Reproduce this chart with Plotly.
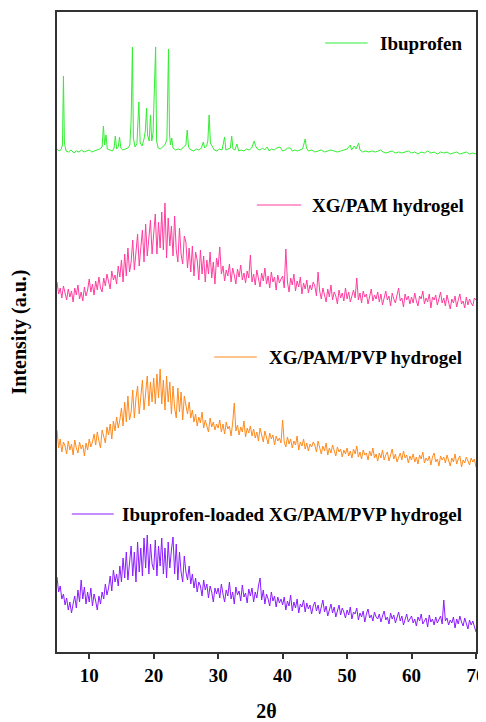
import plotly.graph_objects as go

# ---------------- data ----------------
# amorphous scans: start 5°, step 0.25°, 261 points (to 70°)
SCAN_START = 5.0
SCAN_STEP = 0.25

xg_pam = [
    30, 18, 24, 14, 26, 17, 12, 23, 15, 21, 10, 24, 17, 27, 13, 20, 11, 25, 16, 22,
    33, 20, 28, 17, 31, 22, 35, 24, 20, 34, 26, 38, 29, 23, 41, 32, 37, 28, 46, 35,
    52, 30, 58, 36, 64, 40, 50, 72, 42, 62, 78, 46, 68, 82, 50, 88, 56, 76, 92, 58,
    80, 98, 58, 90, 64, 100, 62, 109, 54, 94, 66, 86, 56, 96, 62, 50, 84, 58, 48, 76,
    70, 44, 64, 40, 66, 36, 60, 52, 32, 62, 38, 56, 30, 52, 38, 60, 34, 50, 28, 54,
    45, 65, 38, 46, 31, 42, 36, 48, 30, 44, 37, 28, 43, 35, 47, 32, 39, 29, 41, 34,
    57, 30, 38, 27, 42, 33, 25, 39, 31, 44, 28, 36, 24, 40, 30, 35, 22, 37, 29, 33,
    36, 24, 63, 30, 20, 34, 27, 38, 21, 31, 25, 35, 18, 29, 23, 32, 19, 27, 22, 30,
    26, 16, 40, 21, 13, 24, 18, 10, 23, 15, 27, 12, 20, 16, 8, 22, 14, 19, 11, 24,
    13, 20, 10, 17, 22, 14, 34, 12, 19, 9, 21, 15, 18, 8, 16, 23, 11, 17, 13, 20,
    10, 18, 7, 15, 21, 12, 16, 6, 19, 13, 9, 17, 24, 11, 14, 5, 18, 12, 16, 8,
    15, 9, 19, 11, 6, 16, 13, 21, 8, 14, 10, 18, 4, 15, 12, 17, 7, 13, 20, 9,
    14, 6, 17, 10, 3, 13, 9, 16, 5, 12, 18, 8, 11, 4, 15, 7, 13, 9, 6, 14,
    12,
]

xg_pam_pvp = [
    42, 24, 33, 20, 30, 26, 18, 31, 22, 28, 17, 32, 24, 19, 30, 23, 27, 16, 29, 22,
    33, 25, 30, 38, 27, 40, 31, 24, 42, 35, 29, 45, 37, 48, 33, 51, 41, 55, 44, 52,
    64, 46, 70, 50, 76, 52, 60, 82, 54, 74, 86, 58, 78, 92, 62, 84, 96, 66, 90, 70,
    94, 68, 98, 74, 103, 68, 92, 62, 96, 70, 90, 58, 86, 64, 54, 84, 60, 80, 52, 76,
    66, 58, 70, 54, 62, 50, 58, 46, 55, 49, 60, 44, 52, 47, 40, 54, 45, 50, 42, 48,
    44, 52, 40, 48, 38, 50, 43, 46, 36, 49, 69, 41, 47, 37, 45, 40, 51, 35, 44, 39,
    46, 36, 43, 34, 40, 31, 44, 37, 30, 41, 35, 28, 39, 33, 37, 27, 36, 31, 34, 29,
    52, 30, 25, 35, 28, 33, 24, 31, 27, 36, 22, 30, 26, 33, 23, 29, 21, 28, 25, 30,
    27, 20, 31, 23, 18, 26, 21, 29, 17, 24, 19, 27, 22, 16, 25, 20, 23, 15, 22, 18,
    24, 16, 21, 14, 23, 18, 26, 15, 20, 13, 22, 17, 19, 12, 21, 16, 24, 14, 18, 11,
    19, 14, 22, 12, 17, 20, 11, 16, 23, 13, 18, 10, 15, 19, 12, 21, 14, 17, 9, 16,
    12, 18, 10, 15, 8, 17, 13, 20, 9, 14, 11, 16, 7, 15, 19, 10, 13, 6, 16, 12,
    15, 9, 17, 11, 6, 14, 10, 18, 8, 13, 16, 5, 12, 9, 15, 11, 7, 14, 10, 13,
    5,
]

ibu_loaded = [
    55, 40, 46, 33, 38, 27, 34, 22, 30, 19, 28, 36, 24, 42, 30, 52, 33, 45, 28, 40,
    30, 44, 26, 38, 31, 22, 36, 28, 40, 33, 48, 37, 44, 56, 41, 62, 50, 58, 46, 66,
    50, 74, 54, 80, 52, 72, 86, 56, 80, 50, 90, 60, 84, 56, 94, 64, 97, 58, 88, 68,
    62, 92, 56, 86, 66, 94, 58, 84, 54, 90, 64, 82, 95, 58, 88, 52, 80, 60, 50, 76,
    60, 52, 66, 48, 58, 44, 54, 40, 50, 46, 36, 52, 42, 48, 34, 46, 40, 30, 44, 38,
    44, 34, 48, 38, 30, 42, 36, 50, 33, 40, 28, 45, 37, 41, 31, 47, 35, 39, 29, 43,
    36, 44, 30, 40, 34, 46, 54, 32, 42, 28, 38, 33, 26, 40, 31, 36, 25, 35, 29, 33,
    27, 35, 22, 31, 26, 37, 21, 30, 24, 33, 19, 28, 25, 32, 20, 29, 23, 27, 18, 26,
    30, 21, 27, 18, 24, 32, 20, 26, 16, 23, 28, 19, 25, 15, 22, 27, 17, 24, 20, 14,
    22, 17, 25, 13, 20, 18, 24, 12, 19, 15, 21, 10, 18, 23, 14, 17, 11, 20, 15, 13,
    18, 10, 16, 21, 12, 15, 8, 19, 13, 17, 9, 14, 20, 11, 16, 7, 13, 18, 10, 14,
    16, 9, 13, 6, 15, 11, 18, 8, 12, 14, 5, 17, 10, 13, 7, 15, 9, 12, 16, 8,
    32, 11, 14, 7, 12, 9, 15, 4, 13, 8, 16, 10, 6, 14, 9, 3, 12, 7, 11, 5,
    0,
]

# crystalline ibuprofen pattern (2θ, intensity above baseline)
ibu_2theta = [
    5.0, 5.3, 5.6, 5.85, 6.0, 6.15, 6.4, 6.8, 7.2, 7.6, 8.0, 8.4, 8.8, 9.2, 9.6,
    10.0, 10.4, 10.8, 11.2, 11.6, 12.0, 12.2, 12.4, 12.6, 12.8, 13.2, 13.6, 13.85,
    14.05, 14.25, 14.5, 14.7, 14.9, 15.2, 15.6, 16.0, 16.3, 16.5, 16.7, 16.85, 17.1,
    17.4, 17.7, 17.9, 18.2, 18.5, 18.7, 18.9, 19.05, 19.3, 19.5, 19.7, 19.9, 20.1,
    20.3, 20.45, 20.7, 21.0, 21.4, 21.8, 22.05, 22.3, 22.45, 22.6, 22.8, 23.0, 23.4,
    23.8, 24.2, 24.6, 25.0, 25.2, 25.4, 25.8, 26.2, 26.6, 27.0, 27.4, 27.7, 27.9,
    28.2, 28.4, 28.6, 28.8, 29.1, 29.4, 29.8, 30.2, 30.6, 31.0, 31.2, 31.6, 31.9,
    32.1, 32.3, 32.6, 32.9, 33.2, 33.6, 34.0, 34.4, 34.8, 35.2, 35.6, 35.8, 36.1,
    36.5, 36.9, 37.2, 37.6, 37.9, 38.3, 38.7, 39.1, 39.6, 40.0, 40.4, 40.8, 41.2,
    41.5, 41.9, 42.3, 42.7, 43.1, 43.5, 43.7, 44.0, 44.5, 45.0, 45.5, 46.0, 46.5,
    47.0, 47.5, 48.0, 48.5, 49.0, 49.5, 50.0, 50.5, 50.7, 51.1, 51.4, 51.8, 52.0,
    52.4, 52.9, 53.4, 53.9, 54.4, 54.9, 55.2, 55.6, 56.0, 56.5, 57.0, 57.5, 58.0,
    58.5, 59.0, 59.5, 60.0, 60.5, 61.0, 61.5, 62.0, 62.5, 63.0, 63.5, 64.0, 64.5,
    65.0, 65.5, 66.0, 66.5, 67.0, 67.5, 68.0, 68.5, 69.0, 69.5, 70.0,
]
ibu_intensity = [
    4, 2, 3, 8, 77, 10, 2, 1, 3, 0, 2, 1, 3, 1, 2,
    3, 1, 2, 3, 4, 6, 27, 8, 18, 4, 3, 2, 5,
    17, 4, 6, 16, 5, 3, 4, 5, 8, 33, 106, 15, 6,
    9, 51, 10, 7, 14, 22, 45, 18, 12, 38, 12, 20, 65,
    106, 12, 5, 4, 6, 9, 14, 104, 20, 8, 15, 5, 3,
    4, 3, 6, 8, 23, 6, 3, 2, 4, 3, 5, 11, 5,
    7, 12, 38, 10, 6, 3, 2, 4, 3, 16, 3, 4, 5,
    17, 4, 3, 9, 2, 3, 2, 4, 3, 5, 12, 7, 4,
    3, 5, 3, 6, 2, 4, 3, 5, 6, 2, 3, 5, 5,
    2, 3, 2, 3, 4, 14, 5, 2, 3, 1, 2, 3, 1,
    2, 3, 2, 1, 2, 3, 4, 8, 3, 7, 4, 10, 3,
    1, 2, 1, 2, 1, 2, 3, 1, 0, 1, 2, 0, 1,
    0, 1, 2, 0, 1, -1, 1, 0, 2, 0, 1, -1, 1,
    0, 1, -1, 0, 1, -1, 0, 1, -1, 0, -1,
]

series_names = [
    "Ibuprofen",
    "XG/PAM hydrogel",
    "XG/PAM/PVP hydrogel",
    "Ibuprofen-loaded XG/PAM/PVP hydrogel",
]
series_colors = ["#33ee33", "#ff3d9e", "#ff8a1c", "#8a1cff"]
series_offsets = [499, 340, 180, 20]

# ---------------- figure ----------------
scan_x = [SCAN_START + SCAN_STEP * i for i in range(len(xg_pam))]

fig = go.Figure()
fig.add_trace(go.Scatter(
    x=ibu_2theta, y=[v + series_offsets[0] for v in ibu_intensity],
    mode="lines", name=series_names[0],
    line=dict(color=series_colors[0], width=1)))
for k, vals in zip([1, 2, 3], [xg_pam, xg_pam_pvp, ibu_loaded]):
    fig.add_trace(go.Scatter(
        x=scan_x, y=[v + series_offsets[k] for v in vals],
        mode="lines", name=series_names[k],
        line=dict(color=series_colors[k], width=1)))

# in-plot legend labels (line sample + text)
legend_y = [609, 447, 295, 138]
legend_x0 = [46.6, 36.0, 29.4, 7.3]
legend_x1 = [53.2, 42.9, 36.0, 13.8]
legend_tx = [54.8, 44.25, 37.6, 14.8]
for i in range(4):
    fig.add_shape(type="line", xref="x", yref="y",
                  x0=legend_x0[i], x1=legend_x1[i], y0=legend_y[i], y1=legend_y[i],
                  line=dict(color=series_colors[i], width=1))
    fig.add_annotation(x=legend_tx[i], y=legend_y[i], xref="x", yref="y",
                       text=series_names[i], showarrow=False,
                       xanchor="left", yanchor="middle",
                       font=dict(family="Liberation Serif", size=19,
                                 color="black", weight="bold"))

# the page body has an 8px default margin, so the figure is sized to fit the window
font = dict(family="Liberation Serif", size=19, color="black", weight="bold")
fig.update_layout(
    width=478, height=714,
    margin=dict(l=49, r=10, t=4, b=70, autoexpand=False),
    paper_bgcolor="white", plot_bgcolor="white",
    showlegend=False,
    font=font,
    xaxis=dict(range=[5, 70], tickvals=[10, 20, 30, 40, 50, 60, 70],
               ticks="outside", ticklen=5, tickwidth=1.5, tickcolor="#333",
               showline=True, linewidth=2, linecolor="#333", mirror=True,
               showgrid=False, zeroline=False, automargin=False,
               tickfont=dict(family="Liberation Serif", size=19, color="black", weight="bold"),
               title=dict(text="2θ", standoff=20,
                          font=dict(family="Liberation Serif", size=20, color="black", weight="bold"))),
    yaxis=dict(range=[0, 640], showticklabels=False, ticks="",
               showline=True, linewidth=2, linecolor="#333", mirror=True,
               showgrid=False, zeroline=False, automargin=False,
               title=dict(text="Intensity (a.u.)", standoff=24,
                          font=dict(family="Liberation Serif", size=20, color="black", weight="bold"))),
)

fig.write_html("out.html")
